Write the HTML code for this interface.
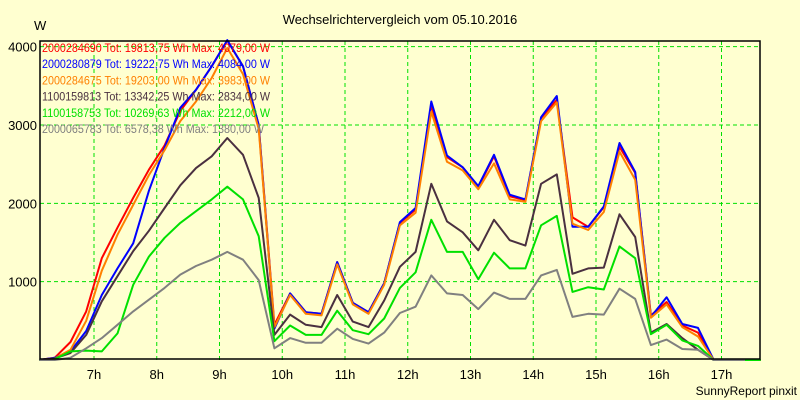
<!DOCTYPE html>
<html><head><meta charset="utf-8">
<style>
html,body{margin:0;padding:0;background:#FFFFD0;}
svg{display:block;font-family:"Liberation Sans",sans-serif;}
</style></head>
<body>
<svg id="chart" width="800" height="400" viewBox="0 0 800 400" xmlns="http://www.w3.org/2000/svg">
<rect x="0" y="0" width="800" height="400" fill="#FFFFD0"/>
<text x="400" y="24" text-anchor="middle" font-size="13">Wechselrichtervergleich vom 05.10.2016</text>
<text x="34" y="30" font-size="13">W</text>
<g id="grid"></g>
<g id="yticks"></g>
<g id="xticks"></g>
<g id="series"></g>
<rect x="40" y="41" width="720" height="318" fill="none" stroke="#000" stroke-width="1.5"/>
<g id="legend"></g>
<text x="797" y="395" text-anchor="end" font-size="12">SunnyReport pinxit</text>
</svg>
<script>
// quarter-hour samples starting 6:07:30
const startHour = 6.125;
const stepHour = 0.25;
const yTicks = [1000, 2000, 3000, 4000];
const xTickHours = [7, 8, 9, 10, 11, 12, 13, 14, 15, 16, 17];
const seriesNames = ["2000284690 Tot: 19813,75 Wh Max: 4079,00 W","2000280879 Tot: 19222,75 Wh Max: 4084,00 W","2000284675 Tot: 19203,00 Wh Max: 3983,00 W","1100159813 Tot: 13342,25 Wh Max: 2834,00 W","1100158753 Tot: 10269,63 Wh Max: 2212,00 W","2000065783 Tot: 6578,38 Wh Max: 1380,00 W"];
const seriesColors = ["#FF0000","#0000FF","#FF8000","#4A3040","#00E000","#808080"];
const red = [0,30,230,620,1300,1690,2070,2430,2740,3180,3450,3750,4079,3750,3000,450,850,610,590,1250,730,610,980,1750,1920,3250,2590,2460,2210,2600,2090,2040,3090,3320,1820,1700,1950,2720,2390,570,740,440,350,0,0,0,0];
const blue = [0,30,110,370,830,1170,1490,2160,2710,3220,3450,3750,4084,3750,3000,400,850,610,590,1250,730,610,980,1760,1940,3300,2610,2460,2220,2620,2110,2050,3100,3370,1700,1700,1960,2770,2400,550,800,460,410,0,0,0,0];
const orange = [0,20,130,500,1140,1600,1980,2360,2680,3050,3300,3600,3983,3650,2950,420,830,590,570,1220,710,590,960,1720,1880,3170,2530,2420,2180,2510,2050,2020,3050,3290,1740,1660,1890,2660,2300,540,710,420,300,0,0,0,0];
const dark = [0,20,90,320,750,1070,1390,1650,1940,2230,2450,2600,2834,2620,2070,320,580,450,420,830,490,420,760,1190,1380,2250,1770,1630,1400,1790,1530,1460,2250,2370,1100,1170,1180,1860,1570,350,460,280,130,0,0,0,0];
const green = [0,10,110,120,110,340,960,1320,1560,1750,1900,2050,2212,2050,1580,240,440,320,320,630,380,330,530,920,1120,1790,1380,1380,1030,1370,1170,1170,1720,1840,870,930,900,1450,1300,330,450,250,180,0,0,0,0];
const gray = [0,0,30,150,280,450,620,770,920,1090,1200,1280,1380,1280,1020,150,280,220,220,400,270,210,350,600,680,1080,850,830,650,860,780,780,1080,1150,550,590,580,910,780,190,260,140,130,0,0,0];
const seriesData = [red, blue, orange, dark, green, gray];
const seriesIds = ["2000284690","2000280879","2000284675","1100159813","1100158753","2000065783"];

const NS = "http://www.w3.org/2000/svg";
const plotL = 40, plotR = 760, plotB = 360;
function xScale(h){ return 94 + (h - 7) * 62.75; }
function yScale(v){ return plotB - v * 0.07833; }

const grid = document.getElementById('grid');
yTicks.forEach(v => {
  const l = document.createElementNS(NS,'line');
  
  
  l.setAttribute('x1', plotL); l.setAttribute('x2', plotR);
  l.setAttribute('y1', yScale(v)); l.setAttribute('y2', yScale(v));
  l.setAttribute('stroke', '#00E000'); l.setAttribute('stroke-dasharray', '4,3');
  grid.appendChild(l);
  const t = document.createElementNS(NS,'text');
  
  
  t.setAttribute('x', 37); t.setAttribute('y', yScale(v) + 5);
  t.setAttribute('text-anchor', 'end'); t.setAttribute('font-size', '13');
  t.textContent = v;
  document.getElementById('yticks').appendChild(t);
});
xTickHours.forEach(h => {
  const l = document.createElementNS(NS,'line');
  
  
  l.setAttribute('x1', xScale(h)); l.setAttribute('x2', xScale(h));
  l.setAttribute('y1', 41); l.setAttribute('y2', plotB);
  l.setAttribute('stroke', '#00E000'); l.setAttribute('stroke-dasharray', '4,3');
  grid.appendChild(l);
  const t = document.createElementNS(NS,'text');
  
  
  t.setAttribute('x', xScale(h)); t.setAttribute('y', 379);
  t.setAttribute('text-anchor', 'middle'); t.setAttribute('font-size', '13');
  t.textContent = h + 'h';
  document.getElementById('xticks').appendChild(t);
});

const sg = document.getElementById('series');
seriesData.forEach((arr, i) => {
  const pts = arr.map((v, k) => xScale(startHour + k * stepHour).toFixed(1) + ',' + yScale(v).toFixed(1)).join(' ');
  const p = document.createElementNS(NS,'polyline');
  
  
  p.setAttribute('points', pts);
  p.setAttribute('fill', 'none');
  p.setAttribute('stroke', seriesColors[i]);
  p.setAttribute('stroke-width', '2');
  p.setAttribute('stroke-linejoin', 'round');
  sg.appendChild(p);
});

const lg = document.getElementById('legend');
seriesNames.forEach((name, i) => {
  const t = document.createElementNS(NS,'text');
  
  
  t.setAttribute('x', 42); t.setAttribute('y', 52 + i * 16.2);
  t.setAttribute('font-size', '12');
  t.setAttribute('fill', seriesColors[i]);
  t.setAttribute('textLength', i === 5 ? 222 : 228);
  t.setAttribute('lengthAdjust', 'spacingAndGlyphs');
  t.textContent = name;
  lg.appendChild(t);
});
</script>
</body></html>
